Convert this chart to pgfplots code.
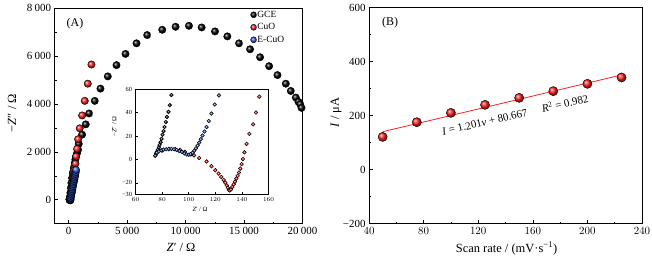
\documentclass[border=0pt]{standalone}
\usepackage{fontspec}
\setmainfont{Liberation Serif}
\usepackage{pgfplots}
\pgfplotsset{compat=1.18}
\usetikzlibrary{plotmarks}
\definecolor{ballblue}{RGB}{45,90,210}
\definecolor{ballred}{RGB}{255,30,30}
\newcommand{\ts}{\hspace{0.22em}}
\begin{document}
\begin{tikzpicture}
\useasboundingbox (0bp,0bp) rectangle (652bp,259bp);
\pgfplotsset{
  myax/.style={scale only axis, anchor=south west, tick align=inside, tick pos=left,
    scaled x ticks=false, scaled y ticks=false,
    major tick length=3.5bp, minor tick length=2bp,
    axis line style={line width=0.8bp},
    every tick/.style={black,line width=0.6bp},
    tick label style={font=\fontsize{11}{13}\selectfont},
    label style={font=\fontsize{12.5}{15}\selectfont},
    clip=false},
}
% ---------------- Panel A ----------------
\begin{axis}[myax, at={(54.7bp,35.3bp)}, width=247.8bp, height=215.4bp,
  xmin=-1200, xmax=20000, ymin=-1000, ymax=8000,
  xtick={0,5000,10000,15000,20000},
  xticklabels={0,5\ts000,10\ts000,15\ts000,20\ts000},
  ytick={0,2000,4000,6000,8000},
  yticklabels={0,2\ts000,4\ts000,6\ts000,8\ts000},
  minor x tick num=1, minor y tick num=1,
  xlabel={\textit{Z}′ / Ω}, ylabel={−\textit{Z}″ / Ω},
  x label style={at={(axis description cs:0.51,-0.108)}, anchor=center},
  y label style={at={(axis description cs:-0.172,0.514)}, anchor=center},
  legend style={at={(axis description cs:0.789,0.994)}, anchor=north west, draw=none, fill=none,
    font=\fontsize{9.5}{11}\selectfont, row sep=2.5bp, inner sep=0pt,
    nodes={inner sep=0.6bp, text height=6.8bp, text depth=2bp}},
  legend cell align=left,
  legend image code/.code={\draw[#1, mark size=3bp] plot coordinates {(3bp,0bp)};},
]
\addplot[only marks, mark=ball, ball color=black, mark size=3.7bp] coordinates {
(75,3) (80,21) (87,55) (120,150) (143,290) (186,500) (229,705) (286,910) (343,1119)
(430,1330) (514,1534) (571,1680) (629,1810) (714,1950) (800,2087) (857,2336)
(1143,2723) (1457,3151) (1743,3607) (2229,4132) (2714,4644) (3343,5155) (4086,5625)
(4857,6095) (5800,6537) (6714,6882) (8000,7103) (9143,7228) (10286,7269) (11371,7200)
(12514,7034) (13571,6827) (14571,6537) (15514,6288) (16371,5956) (17143,5583)
(17857,5210) (18571,4851) (19000,4547) (19429,4270) (19657,4091) (19800,3994) (19914,3842)
};
\addlegendentry{GCE}
\addplot[only marks, mark=ball, ball color=ballred, mark size=3.7bp] coordinates {
(76,5) (90,8) (104,3) (113,-2) (122,-12) (130,-26) (136,-16) (141,0) (146,22) (153,54)
(200,150) (257,290) (314,428) (371,705) (429,981) (486,1230) (571,1506) (629,1810)
(714,2128) (800,2529) (943,2985) (1143,3524) (1371,4132) (1629,4851) (1943,5652)
};
\addlegendentry{CuO}
\addplot[only marks, mark=ball, ball color=ballblue, mark size=3.7bp] coordinates {
(75,3) (85,9) (100,4) (110,20) (123,55) (150,90) (180,160) (210,230) (240,300)
(270,370) (300,440) (330,510) (360,580) (390,650) (420,720) (450,790) (480,860)
(510,930) (540,1000) (570,1080) (600,1160) (625,1250)
};
\addlegendentry{E-CuO}
\node[font=\fontsize{12}{14}\selectfont] at (rel axis cs:0.082,0.927) {(A)};
\end{axis}
% ---------------- Inset ----------------
\begin{axis}[myax, at={(135.5bp,64.5bp)}, width=133bp, height=105.2bp,
  axis background/.style={fill=white},
  xmin=60, xmax=160, ymin=-30, ymax=60,
  xtick={60,80,100,120,140,160},
  ytick={-30,-20,0,20,40,60},
  yticklabels={−30,−20,0,20,40,60},
  major tick length=2.5bp,
  tick label style={font=\fontsize{6.3}{7}\selectfont},
  label style={font=\fontsize{6.5}{7.5}\selectfont},
  xlabel={\textit{Z}′ / Ω}, ylabel={−\textit{Z}″ / Ω},
  x label style={at={(axis description cs:0.485,-0.14)}, anchor=center},
  y label style={at={(axis description cs:-0.16,0.645)}, anchor=center},
  clip=true,
]
\addplot[only marks, mark=ball, ball color=black, mark size=1.9bp] coordinates {
(74.9,3.2) (75.6,5.2) (76.1,6.6) (76.9,8.4) (77.6,10.4) (78.1,12.4) (78.9,14.7)
(79.6,17.6) (80.3,21.1) (81.1,24.2) (81.8,27.7) (82.8,32.0) (83.6,36.3) (84.8,40.7)
(85.8,46.4) (87.0,55.1)
};
\addplot[only marks, mark=ball, ball color=ballred, mark size=1.9bp] coordinates {
(76,5.5) (80,7.5) (85,8.8) (90,8.8) (93.5,8.2) (97,6.5) (101.7,4.2) (104,3.5)
(107.9,1.2) (113.4,-1.7) (117.1,-5.8) (120.0,-9.2) (122.5,-12.1) (124.5,-15.0)
(126.3,-17.6) (127.5,-19.9) (128.7,-22.2) (129.5,-24.2) (130.2,-26.0) (130.8,-26.5)
(131.8,-25.7) (132.8,-23.6) (133.8,-21.3) (134.8,-19.0) (135.8,-16.4) (136.8,-14.1)
(137.8,-11.2) (138.8,-7.8) (139.8,-4.0) (140.8,0.3) (141.9,6.1) (143.5,13.3)
(145.6,21.9) (148.4,30.0) (150.6,40.1) (153.1,53.7)
};
\addplot[only marks, mark=ball, ball color=ballblue, mark size=1.9bp] coordinates {
(74.9,3.2) (76.1,5.8) (77.6,6.9) (79.4,7.8) (81.1,8.4) (83.1,8.7) (85.1,9.0) (87.0,9.0)
(89.0,8.7) (91.0,8.1) (93.0,7.2) (95.0,6.4) (96.7,5.2) (98.5,4.3) (100.0,4.0)
(101.4,4.6) (102.9,5.8) (104.2,7.5) (105.4,9.5) (106.7,11.8) (107.9,14.4) (109.1,17.3)
(110.4,20.5) (111.9,23.9) (113.4,27.7) (115.1,32.9) (117.1,39.2) (119.6,47.0) (122.8,54.8)
};
\end{axis}
% ---------------- Panel B ----------------
\begin{axis}[myax, at={(369bp,35.3bp)}, width=273bp, height=216bp,
  xmin=40, xmax=240, ymin=-200, ymax=600,
  xtick={40,80,120,160,200,240},
  ytick={-200,0,200,400,600},
  yticklabels={−200,0,200,400,600},
  minor x tick num=1, minor y tick num=1,
  xlabel={Scan rate / (mV·s\textsuperscript{−1})}, ylabel={\textit{I} / μA},
  x label style={at={(axis description cs:0.504,-0.114)}, anchor=center},
  y label style={at={(axis description cs:-0.121,0.514)}, anchor=center},
]
\addplot[ballred, line width=0.8bp, no marks] coordinates {(50,140.7) (225,350.9)};
\addplot[only marks, mark=ball, ball color=ballred, mark size=4.6bp] coordinates {
(50,121.5) (75,175.9) (100,210.5) (125,240.2) (150,266.1) (175,290.9) (200,318.1) (225,341.6)
};
\node[font=\fontsize{12}{14}\selectfont] at (rel axis cs:0.077,0.929) {(B)};
\node[rotate=13, font=\fontsize{11}{13}\selectfont] at (axis cs:147,205)
  {\textit{I} = 1.201\textit{v} + 80.667\hspace{1.4em}\textit{R}\textsuperscript{2} = 0.982};
\end{axis}
\end{tikzpicture}
\end{document}
